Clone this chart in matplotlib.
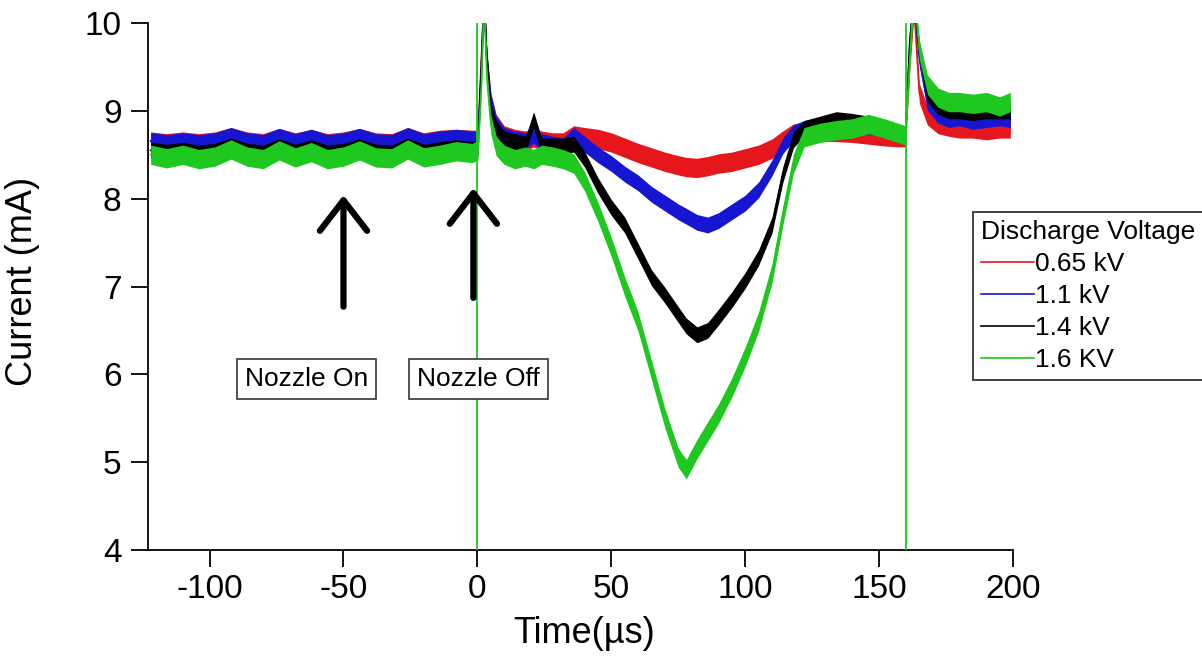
#!/usr/bin/env python

"""
Discharge current vs time for several discharge voltages
"""

import matplotlib
matplotlib.use("Agg")
import matplotlib.pyplot as plt
import numpy as np

plt.rcParams["font.family"] = ["Liberation Sans", "DejaVu Sans"]
plt.rcParams["axes.unicode_minus"] = False

# time grid (us), shared by all four traces
t_us = [-122, -116, -110, -104, -98, -92, -86, -80, -74, -68, -62, -56, -50, -44,
        -38, -32, -26, -20, -14, -8, -2, 0.2, 1.5, 2.5, 3.5, 5, 7, 10, 14, 18,
        21, 24, 28, 32, 36, 40, 45, 50, 55, 60, 65, 70, 75, 78, 82, 86, 90, 95,
        100, 105, 110, 114, 118, 122, 128, 134, 140, 146, 152, 157, 159.8,
        161.5, 163, 165, 168, 172, 176, 180, 185, 190, 195, 199]

# current (mA)
i_065 = [8.65, 8.63, 8.65, 8.63, 8.65, 8.70, 8.65, 8.63, 8.69, 8.64, 8.68, 8.63, 8.65, 8.69,
         8.64, 8.63, 8.70, 8.64, 8.67, 8.68, 8.67, 8.67, 9.6, 10.3, 9.6, 9.1, 8.85, 8.72, 8.68, 8.66,
         8.70, 8.66, 8.64, 8.64, 8.72, 8.70, 8.68, 8.64, 8.58, 8.52, 8.47, 8.42, 8.38, 8.36, 8.35, 8.37, 8.40, 8.42,
         8.46, 8.50, 8.57, 8.66, 8.74, 8.76, 8.76, 8.76, 8.75, 8.73, 8.71, 8.70, 8.70,
         9.6, 10.2, 9.2, 8.95, 8.85, 8.82, 8.80, 8.80, 8.78, 8.80, 8.80]
i_110 = [8.66, 8.64, 8.66, 8.64, 8.66, 8.72, 8.66, 8.64, 8.71, 8.65, 8.70, 8.64, 8.66, 8.71,
         8.65, 8.64, 8.72, 8.65, 8.68, 8.70, 8.68, 8.68, 9.5, 10.3, 9.6, 9.1, 8.85, 8.72, 8.68, 8.66,
         8.72, 8.65, 8.62, 8.60, 8.72, 8.62, 8.50, 8.40, 8.28, 8.18, 8.05, 7.95, 7.85, 7.80, 7.73, 7.70, 7.75, 7.85,
         7.95, 8.10, 8.35, 8.60, 8.75, 8.80, 8.82, 8.85, 8.85, 8.82, 8.80, 8.75, 8.72,
         9.8, 10.3, 9.6, 9.1, 8.95, 8.90, 8.92, 8.88, 8.90, 8.92, 8.90]
i_140 = [8.55, 8.53, 8.55, 8.52, 8.54, 8.60, 8.54, 8.52, 8.59, 8.53, 8.58, 8.52, 8.54, 8.59,
         8.53, 8.52, 8.60, 8.53, 8.56, 8.58, 8.56, 8.58, 9.5, 10.3, 9.6, 9.0, 8.8, 8.68, 8.65, 8.62,
         8.90, 8.60, 8.60, 8.60, 8.62, 8.45, 8.15, 7.90, 7.70, 7.40, 7.10, 6.90, 6.68, 6.55, 6.45, 6.50, 6.65, 6.85,
         7.07, 7.33, 7.70, 8.27, 8.67, 8.80, 8.85, 8.90, 8.88, 8.85, 8.80, 8.75, 8.72,
         9.8, 10.3, 9.7, 9.2, 9.05, 9.00, 9.00, 8.98, 9.00, 9.00, 9.00]
i_160 = [8.50, 8.46, 8.50, 8.45, 8.48, 8.56, 8.48, 8.45, 8.55, 8.47, 8.53, 8.45, 8.48, 8.55,
         8.47, 8.46, 8.56, 8.47, 8.50, 8.54, 8.52, 8.55, 9.3, 10.3, 9.4, 8.85, 8.6, 8.5, 8.45, 8.48,
         8.45, 8.50, 8.48, 8.45, 8.40, 8.20, 7.85, 7.45, 7.00, 6.60, 6.05, 5.50, 5.05, 4.92, 5.15, 5.35, 5.55, 5.85,
         6.20, 6.60, 7.15, 7.80, 8.40, 8.70, 8.75, 8.78, 8.80, 8.85, 8.80, 8.75, 8.72,
         9.6, 10.4, 9.7, 9.3, 9.15, 9.10, 9.10, 9.08, 9.10, 9.05, 9.10]

# trigger artefacts on the 1.6 kV trace
spike_t = [0, 160]

labels = ["0.65 kV", "1.1 kV", "1.4 kV", "1.6 KV"]
colors = ["#e5161c", "#1616d2", "#000000", "#1ec81e"]
noise = [0.11, 0.09, 0.09, 0.11]

xticks = [-100, -50, 0, 50, 100, 150, 200]
yticks = [4, 5, 6, 7, 8, 9, 10]


def make_graph():
    fig = plt.figure(figsize=(12.02, 6.59), dpi=100)
    ax = fig.add_axes([0.1231, 0.1654, 0.7197, 0.7997])

    t = np.array(t_us)
    handles = []
    for k, (y, c, hw, lab) in enumerate(zip([i_065, i_110, i_140, i_160], colors, noise, labels)):
        y = np.array(y)
        ax.fill_between(t, y - hw, y + hw, color=c, lw=0, zorder=2 + k)
        ln, = ax.plot(t, y, color=c, lw=1.2, zorder=2 + k, label=lab)
        handles.append(ln)
    ax.vlines(spike_t, 4, 10, color=colors[3], lw=1.3, zorder=7)

    ax.set_xlim(-123, 200)
    ax.set_ylim(4, 10)
    ax.set_xticks(xticks)
    ax.set_yticks(yticks)
    for s in ["top", "right"]:
        ax.spines[s].set_visible(False)
    for s in ["left", "bottom"]:
        ax.spines[s].set_linewidth(1.3)
    ax.tick_params(direction="out", length=12, width=1.3, labelsize=24)
    ax.tick_params(axis="y", pad=7)
    ax.tick_params(axis="x", pad=5)
    ax.set_xlabel("Time(µs)", fontsize=26)
    ax.set_ylabel("Current (mA)", fontsize=26)
    ax.xaxis.set_label_coords(0.504, -0.125)
    ax.yaxis.set_label_coords(-0.125, 0.51)

    # nozzle markers
    for x, tip, tail, txt, tx in [(-50, 8.04, 6.77, "Nozzle On", -63.7),
                                   (-1.5, 8.12, 6.87, "Nozzle Off", 0.5)]:
        ax.annotate("", xy=(x, tip), xytext=(x, tail),
                    arrowprops=dict(arrowstyle="->, head_length=1.1, head_width=0.85",
                                    lw=4.5, color="black", shrinkA=0, shrinkB=0,
                                    mutation_scale=20), zorder=8)
        ax.text(tx, 5.95, txt, fontsize=19, ha="center", va="center", zorder=9,
                bbox=dict(boxstyle="square,pad=0.3", fc="white", ec="#333333", lw=1.2))

    leg = fig.legend(handles=handles, title="Discharge Voltage", loc="upper left",
                     bbox_to_anchor=(0.8095, 0.678), fontsize=19, title_fontsize=19,
                     frameon=True, fancybox=False, edgecolor="#333333", framealpha=1,
                     handlelength=2.0, handletextpad=0.05, labelspacing=0.3,
                     borderpad=0.3, borderaxespad=0, alignment="left")
    leg.get_frame().set_linewidth(1.3)
    for ln in leg.get_lines():
        ln.set_linewidth(1.2)

    fig.savefig("out.png", dpi=100)
    plt.close()


def main():
    make_graph()


if __name__ == "__main__":
    main()
